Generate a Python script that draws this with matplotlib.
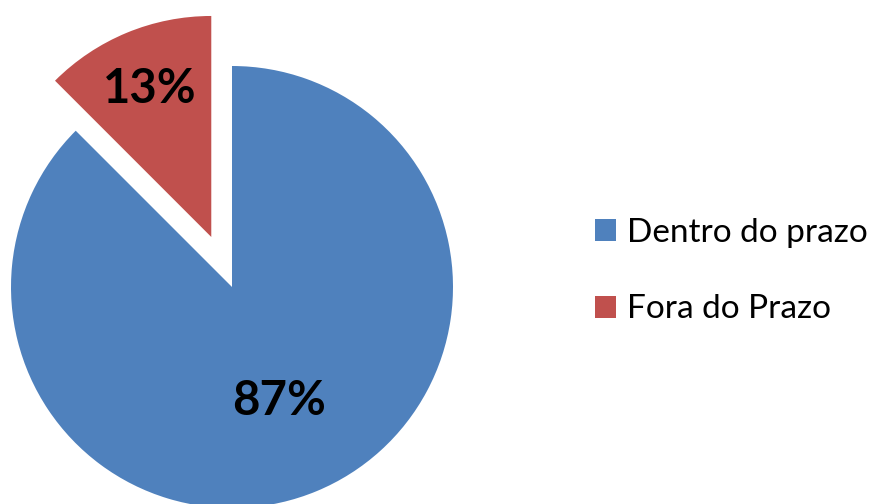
import matplotlib
matplotlib.use("Agg")
import matplotlib.pyplot as plt
import numpy as np

categories = ["Dentro do prazo", "Fora do Prazo"]
values = [87.5, 12.5]
pct_labels = ["87%", "13%"]
colors = ["#4F81BD", "#C0504D"]

W, H = 875, 504
fig = plt.figure(figsize=(W / 100, H / 100), dpi=100)
cx, cy, r = 232, 504 - 287, 221
ax = fig.add_axes([(cx - r) / W, (cy - r) / H, 2 * r / W, 2 * r / H])

wedges, _ = ax.pie(values, colors=colors, startangle=90, counterclock=False,
                   explode=[0, 0.245], radius=1,
                   wedgeprops=dict(linewidth=0), normalize=True)
ax.set_xlim(-1, 1)
ax.set_ylim(-1, 1)
ax.set_aspect("equal")
ax.axis("off")
for w in wedges:
    w.set_clip_on(False)

dists = [0.56, 0.725]
for w, lab, d in zip(wedges, pct_labels, dists):
    th = np.deg2rad((w.theta1 + w.theta2) / 2)
    x0, y0 = w.center
    ax.text(x0 + d * np.cos(th), y0 + d * np.sin(th), lab,
            ha="center", va="center", fontsize=34, fontweight="bold",
            family="Lato", color="black")

fig.legend(wedges, categories, loc="center left",
           bbox_to_anchor=(595 / W, 233 / H), frameon=False,
           prop=dict(family="Lato", size=24), borderpad=0, borderaxespad=0,
           handlelength=0.63, handleheight=0.63, handletextpad=0.33,
           labelspacing=1.4)

fig.savefig("out.png", dpi=100)
